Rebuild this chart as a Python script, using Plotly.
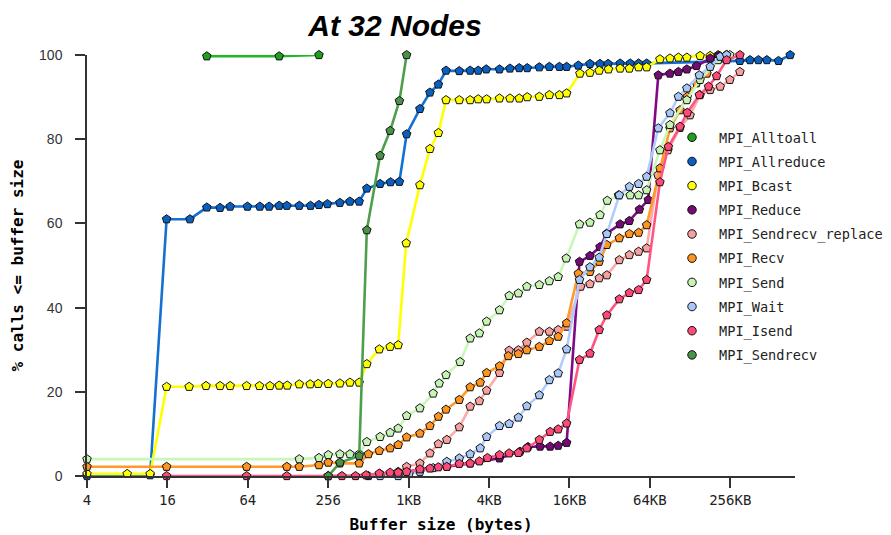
import plotly.graph_objects as go

# x values are log2(buffer size in bytes); y values are % of calls <= buffer size
tick_log2 = [2, 4, 6, 8, 10, 12, 14, 16, 18]
tick_text = ["4", "16", "64", "256", "1KB", "4KB", "16KB", "64KB", "256KB"]

alltoall_x = [4.98, 6.78, 7.77]
alltoall_y = [99.7, 99.7, 100]

allreduce_x = [2.00, 3.57, 3.98, 4.56, 4.98, 5.31, 5.56, 5.99, 6.30, 6.53, 6.78, 6.97, 7.28, 7.56,
               7.77, 7.98, 8.29, 8.54, 8.77, 8.96, 9.29, 9.55, 9.77, 9.95, 10.28, 10.53, 10.74,
               10.93, 11.26, 11.53, 11.73, 11.93, 12.26, 12.52, 12.75, 12.95, 13.25, 13.50, 13.75,
               13.93, 14.22, 14.51, 14.76, 14.96, 15.26, 15.51, 15.72, 15.92, 18.24, 18.49, 18.70,
               18.91, 19.20, 19.49]
allreduce_y = [0, 0.2, 61.0, 61.0, 63.8, 63.7, 64.0, 64.0, 64.0, 64.0, 64.2, 64.2, 64.2, 64.2,
               64.4, 64.6, 64.9, 65.2, 65.2, 68.3, 69.4, 69.8, 69.9, 81.2, 87.2, 91.1, 93.0,
               96.3, 96.2, 96.3, 96.3, 96.6, 96.6, 96.8, 96.9, 96.9, 97.1, 97.2, 97.2,
               97.2, 97.5, 97.9, 97.9, 97.9, 98.0, 98.0, 98.0, 98.0, 98.6, 98.8, 98.8,
               98.8, 98.6, 100]

bcast_x = [2.00, 3.00, 3.57, 3.98, 4.54, 4.96, 5.31, 5.56, 5.97, 6.29, 6.55, 6.78, 6.98, 7.28,
           7.55, 7.75, 8.00, 8.29, 8.54, 8.77, 8.96, 9.27, 9.54, 9.74, 9.94, 10.28, 10.53, 10.74,
           10.93, 11.26, 11.53, 11.73, 11.94, 12.26, 12.52, 12.75, 12.95, 13.25, 13.50, 13.75,
           13.93, 14.26, 14.51, 14.74, 14.97, 15.26, 15.49, 15.72, 15.92, 16.25, 16.50, 16.71,
           16.92, 17.25, 17.50, 17.70, 17.91]
bcast_y = [0.5, 0.5, 0.5, 21.2, 21.2, 21.4, 21.4, 21.4, 21.4, 21.4, 21.4, 21.5, 21.5, 21.8,
           21.8, 21.9, 21.9, 22.0, 22.2, 22.2, 26.6, 30.1, 30.7, 31.1, 55.3, 69.1, 77.7, 81.5,
           89.3, 89.3, 89.3, 89.5, 89.5, 89.7, 89.7, 89.7, 90.0, 90.1, 90.5, 90.5,
           90.9, 95.6, 95.8, 96.3, 96.6, 96.8, 96.8, 97.1, 97.1, 99.0, 99.2, 99.4,
           99.4, 99.8, 99.8, 100, 100]

reduce_x = [9.00, 9.74, 10.28, 10.95, 11.53, 12.26, 12.77, 12.97, 13.27, 13.52, 13.72, 13.93,
            14.25, 14.51, 14.76, 14.93, 15.26, 15.49, 15.74, 15.96, 16.21, 16.50, 16.71, 16.92,
            17.16, 17.50, 17.70]
reduce_y = [0, 0.6, 1.6, 2.2, 3.0, 4.2, 5.8, 6.9, 7.0, 7.0, 7.2, 7.9,
            50.9, 52.3, 54.4, 57.6, 59.8, 60.6, 63.3, 65.6, 95.2, 95.6, 96.0, 96.6,
            97.4, 99.2, 99.8]

sendrecv_replace_x = [8.00, 9.29, 9.74, 9.95, 10.28, 10.53, 10.74, 10.95, 11.26, 11.53, 11.76,
                      11.94, 12.26, 12.50, 12.73, 12.94, 13.25, 13.50, 13.72, 13.93, 14.28, 14.51,
                      14.74, 14.93, 15.24, 15.49, 15.72, 15.92, 16.20, 16.45, 16.75, 17.00, 17.25,
                      17.50, 17.75, 17.99, 18.24]
sendrecv_replace_y = [0, 0.5, 1.0, 2.2, 3.0, 5.4, 7.6, 8.6, 11.6, 16.5, 17.8,
                      20.3, 24.5, 29.8, 29.9, 31.7, 34.3, 34.3, 34.7, 35.5, 45.0, 45.6,
                      47.0, 47.7, 51.3, 52.5, 53.3, 54.1, 71.5, 77.4, 82.7, 85.7, 90.5,
                      91.7, 92.5, 94.1, 96.0]

recv_x = [2.00, 3.98, 5.97, 6.97, 7.28, 7.77, 8.00, 8.29, 8.77, 9.00, 9.27, 9.54, 9.74, 9.95,
          10.28, 10.53, 10.74, 10.93, 11.26, 11.53, 11.78, 11.94, 12.26, 12.48, 12.73, 12.94,
          13.25, 13.50, 13.72, 13.93, 14.22, 14.51, 14.74, 14.93, 15.24, 15.49, 15.72, 15.92,
          16.25, 16.50, 16.75, 16.93, 17.16, 17.42, 17.75, 17.91]
recv_y = [2.2, 2.2, 2.2, 2.2, 2.2, 2.6, 3.2, 3.0, 3.0, 5.2, 6.0, 6.6, 7.4, 9.2,
          10.1, 11.9, 14.1, 15.8, 18.1, 21.1, 22.2, 24.5, 26.1, 28.5, 29.0, 29.9,
          30.7, 32.1, 33.1, 36.3, 48.1, 48.5, 50.9, 54.9, 56.5, 57.5, 57.8, 59.6,
          73.1, 82.6, 86.9, 90.1, 93.3, 95.6, 99.6, 100]

send_x = [2.00, 7.28, 7.77, 8.00, 8.29, 8.54, 8.77, 8.96, 9.29, 9.54, 9.74, 9.95, 10.28, 10.61,
          10.76, 10.93, 11.28, 11.53, 11.76, 11.94, 12.26, 12.50, 12.73, 12.94, 13.25, 13.50,
          13.72, 13.92, 14.25, 14.51, 14.76, 14.94, 15.22, 15.51, 15.72, 15.92, 16.25, 16.50,
          16.92, 17.25, 17.70, 17.99]
send_y = [4.0, 4.0, 4.3, 5.0, 5.2, 5.2, 5.2, 8.1, 9.3, 10.3, 11.3, 14.3, 16.1, 19.6,
          22.0, 24.0, 27.1, 32.7, 33.9, 36.7, 39.4, 42.8, 43.4, 45.0, 45.4, 46.3,
          47.3, 51.7, 59.8, 60.2, 62.0, 65.4, 66.7, 66.7, 66.7, 67.9, 77.4, 83.4,
          89.3, 94.1, 98.8, 100]

wait_x = [8.00, 9.29, 9.74, 10.01, 10.28, 10.61, 10.95, 11.26, 11.53, 11.78, 11.94, 12.26,
          12.50, 12.73, 12.94, 13.25, 13.50, 13.72, 13.93, 14.25, 14.51, 14.74, 14.93, 15.24,
          15.49, 15.72, 15.92, 16.21, 16.50, 16.71, 16.92, 17.23, 17.50, 17.75, 17.91]
wait_y = [0, 0, 0, 0.5, 1.0, 1.9, 3.4, 4.2, 5.2, 6.6, 9.3, 11.9,
          12.4, 13.9, 16.6, 19.2, 22.8, 24.4, 30.1, 46.6, 49.6, 51.9, 57.5, 66.7,
          68.7, 69.4, 71.1, 82.6, 86.2, 90.1, 92.1, 95.2, 97.2, 99.6, 100]

isend_x = [3.98, 5.97, 6.97, 8.34, 8.68, 8.94, 9.27, 9.54, 9.74, 9.95, 10.28, 10.53, 10.74,
           10.95, 11.26, 11.53, 11.76, 11.96, 12.26, 12.50, 12.73, 12.94, 13.25, 13.52, 13.72,
           13.93, 14.25, 14.51, 14.74, 14.93, 15.24, 15.49, 15.72, 15.92, 16.25, 16.46, 16.75,
           16.93, 17.23, 17.46, 17.66, 17.91, 18.24]
isend_y = [0, 0, 0, 0, 0, 0.2, 0.6, 0.8, 0.8, 1.0, 1.6, 1.8, 2.1,
           2.2, 2.9, 3.0, 3.5, 4.3, 5.0, 5.4, 5.5, 6.6, 8.6, 10.5, 11.1,
           12.5, 27.6, 29.1, 34.7, 38.2, 42.0, 43.5, 44.2, 46.6, 69.8, 78.2, 83.0,
           86.3, 90.5, 92.5, 95.0, 98.8, 100]

sendrecv_x = [8.00, 8.29, 8.77, 8.96, 9.29, 9.54, 9.77, 9.95]
sendrecv_y = [0, 3.2, 4.75, 58.4, 76.1, 82.0, 89.1, 100]

series = [
    ("MPI_Alltoall", alltoall_x, alltoall_y, "#1f9f1f", "#22b822"),
    ("MPI_Allreduce", allreduce_x, allreduce_y, "#0a60c2", "#1470d2"),
    ("MPI_Bcast", bcast_x, bcast_y, "#ffff00", "#ffff00"),
    ("MPI_Reduce", reduce_x, reduce_y, "#750a75", "#800a86"),
    ("MPI_Sendrecv_replace", sendrecv_replace_x, sendrecv_replace_y, "#f6a0a0", "#ffaaaa"),
    ("MPI_Recv", recv_x, recv_y, "#ff9420", "#ff9a2a"),
    ("MPI_Send", send_x, send_y, "#c6f2b6", "#c8f8b8"),
    ("MPI_Wait", wait_x, wait_y, "#a8c6f6", "#b0ccff"),
    ("MPI_Isend", isend_x, isend_y, "#ff4a78", "#ff5580"),
    ("MPI_Sendrecv", sendrecv_x, sendrecv_y, "#4a924a", "#4e9e4e"),
]

fig = go.Figure()
for name, xs, ys, mcol, lcol in series:
    fig.add_trace(go.Scatter(
        x=xs, y=ys, mode="lines+markers", name=name, showlegend=False,
        line=dict(color=lcol, width=2.6),
        marker=dict(symbol="pentagon", size=9, color=mcol, line=dict(color="#111111", width=1)),
        cliponaxis=False, hoverinfo="skip",
    ))
for name, xs, ys, mcol, lcol in series:
    fig.add_trace(go.Scatter(
        x=[None], y=[None], mode="markers", name=name, legendgroup=name, showlegend=True,
        marker=dict(symbol="circle", size=8.5, color=mcol, line=dict(color="#111111", width=1)),
    ))

# the page body adds an 8px offset, so the figure is 8px smaller than the window
W, H = 883, 527
fig.update_layout(
    width=W, height=H,
    margin=dict(l=79, r=96, t=47, b=59, autoexpand=False),
    paper_bgcolor="white", plot_bgcolor="white",
    title=dict(text="At 32 Nodes", x=387 / W, xanchor="center", xref="container",
               y=1 - 17 / H, yanchor="middle", yref="container",
               font=dict(family="Liberation Sans", size=30, color="black",
                         weight="bold", style="italic")),
    legend=dict(x=0.8164, y=0.841, xanchor="left", yanchor="top", itemwidth=44,
                font=dict(family="DejaVu Sans Mono", size=13.6, color="#222222"),
                tracegroupgap=3.5, bgcolor="rgba(0,0,0,0)"),
    xaxis=dict(range=[2, 19.61], tickmode="array", tickvals=tick_log2, ticktext=tick_text,
               automargin=False,
               showgrid=False, zeroline=False, showline=True, linecolor="#333333", linewidth=1.5,
               ticks="outside", ticklen=10, tickcolor="#333333", tickwidth=1.5,
               tickfont=dict(family="DejaVu Sans Mono", size=14, color="#222222"),
               title=dict(text="Buffer size (bytes)", standoff=12,
                          font=dict(family="DejaVu Sans Mono", size=16, color="black", weight="bold"))),
    yaxis=dict(range=[0, 100], tickvals=[0, 20, 40, 60, 80, 100],
               automargin=False,
               showgrid=False, zeroline=False, showline=True, linecolor="#333333", linewidth=1.5,
               ticks="outside", ticklen=10, tickcolor="#333333", tickwidth=1.5,
               ticklabelstandoff=10,
               tickfont=dict(family="Liberation Sans", size=14, color="#333333"),
               title=dict(text="% calls <= buffer size", standoff=14,
                          font=dict(family="DejaVu Sans Mono", size=16, color="black", weight="bold"))),
)

fig.write_html("out.html")
